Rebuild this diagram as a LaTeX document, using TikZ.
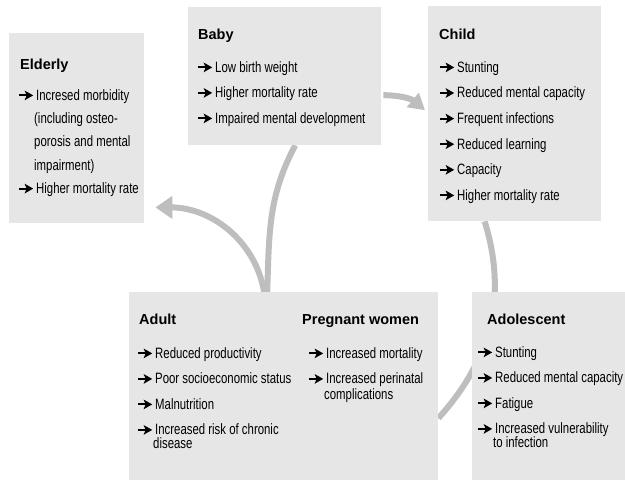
\documentclass[tikz,border=0pt]{standalone}
\usepackage{fontspec}
\setmainfont{Liberation Sans}[FakeStretch=0.76]
\newfontfamily\headfont{Liberation Sans}
\usetikzlibrary{positioning,arrows.meta,backgrounds}

\definecolor{boxgray}{HTML}{E6E6E6}
\definecolor{flowgray}{HTML}{BEBEBE}

% small black arrow in front of each item
\newcommand{\arw}{\tikz[baseline=-4.8pt]\draw[line width=2pt,-{Stealth[length=8.5pt,width=9.5pt,inset=2pt]}] (0,0) -- (14pt,0);\hspace{2pt}}
\newcommand{\ttl}[1]{\rule{0pt}{12pt}{\headfont\bfseries\fontsize{14.5}{14.5}\selectfont #1}}

\begin{document}
\begin{tikzpicture}[x=1pt, y=1pt,
	box/.style = {fill=boxgray, anchor=north west, inner sep=0pt},
	txt/.style = {align=left, inner sep=0pt, font=\fontsize{15}{25.5}\selectfont},
	flow/.style = {draw=flowgray, line width=6pt}]
	\useasboundingbox (0,0) rectangle (625,-480);

	\node[box, minimum width=135pt, minimum height=190pt] (elderly) at (9,-33) {};
	\node[box, minimum width=193pt, minimum height=138pt] (baby) at (188,-7) {};
	\node[box, minimum width=173pt, minimum height=215pt] (child) at (428,-6) {};
	\node[box, minimum width=309pt, minimum height=188pt] (adult) at (129,-292) {};
	\node[box, minimum width=153pt, minimum height=188pt] (adolescent) at (472,-292) {};

	\node[txt, font=\fontsize{15}{23.3}\selectfont, below right=24pt and 9pt of elderly.north west] (elderlytxt) {
		\hspace*{2pt}\ttl{Elderly}\\[7.7pt]
		\arw Incresed morbidity\\
		\hspace*{16pt}(including osteo-\\
		\hspace*{16pt}porosis and mental\\
		\hspace*{16pt}impairment)\\
		\arw Higher mortality rate};
	\node[txt, below right=20pt and 9pt of baby.north west] (babytxt) {
		\hspace*{1pt}\ttl{Baby}\\[7.5pt]
		\arw Low birth weight\\
		\arw Higher mortality rate\\
		\arw Impaired mental development};
	\node[txt, font=\fontsize{15}{25.6}\selectfont, below right=21pt and 11pt of child.north west] (childtxt) {
		\ttl{Child}\\[7.4pt]
		\arw Stunting\\
		\arw Reduced mental capacity\\
		\arw Frequent infections\\
		\arw Reduced learning\\
		\arw Capacity\\
		\arw Higher mortality rate};
	\node[txt, below right=20pt and 8pt of adult.north west] (adulttxt) {
		\hspace*{2pt}\ttl{Adult}\\[8.5pt]
		\arw Reduced productivity\\
		\arw Poor socioeconomic status\\
		\arw Malnutrition\\
		\arw Increased risk of chronic\\[-11.5pt]
		\hspace*{16pt}disease};
	\node[txt, below right=20pt and 173pt of adult.north west] (pregnanttxt) {
		\ttl{Pregnant women}\\[8.5pt]
		\hspace*{6pt}\arw Increased mortality\\
		\hspace*{6pt}\arw Increased perinatal\\[-9.5pt]
		\hspace*{22pt}complications};
	\node[txt, below right=20pt and 5pt of adolescent.north west] (adolescenttxt) {
		\hspace*{10pt}\ttl{Adolescent}\\[7.5pt]
		\arw Stunting\\
		\arw Reduced mental capacity\\
		\arw Fatigue\\
		\arw Increased vulnerability\\[-11.5pt]
		\hspace*{16pt}to infection};

	\begin{scope}[on background layer]
		\draw[flow, -{Triangle[length=16pt,width=18pt]}] ([shift={(2pt,-19pt)}]baby.east) to[out=0, in=140] ([shift={(-3pt,3.5pt)}]child.west);
		\draw[flow] ([xshift=10.5pt]baby.south) to[out=-118, in=88] ([xshift=-16.5pt]adult.north);
		\draw[flow, -{Triangle[length=17pt,width=22pt]}] ([xshift=-19.5pt]adult.north) to[out=100, in=0] ([shift={(11pt,16pt)}]elderly.south east);
		\draw[flow] ([xshift=-30pt]child.south) to[out=-73, in=48] ([yshift=-32pt]adult.east);
	\end{scope}
\end{tikzpicture}
\end{document}
